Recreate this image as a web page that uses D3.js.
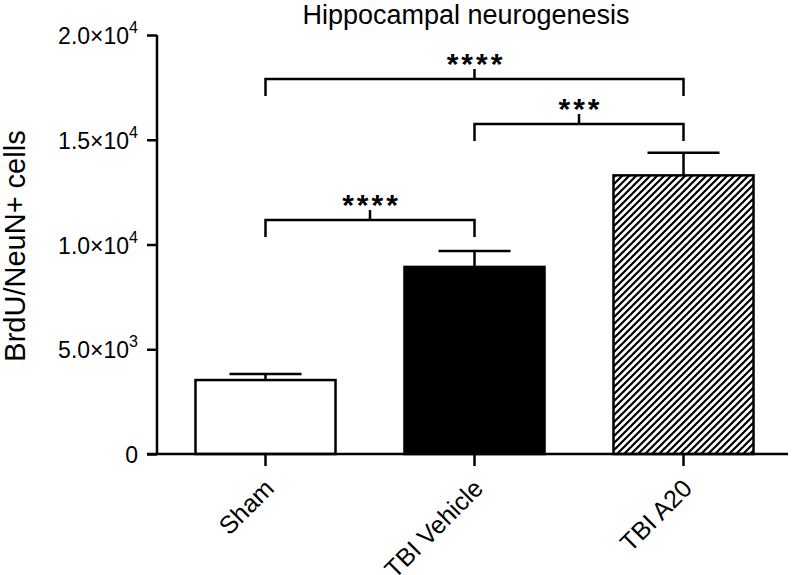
<!DOCTYPE html>
<html>
<head>
<meta charset="utf-8">
<script src="https://cdn.jsdelivr.net/npm/d3@7"></script>
<style>
  body { margin: 0; background: #fff; }
  svg { font-family: Arial, "Liberation Sans", sans-serif; }
</style>
</head>
<body>
<svg id="chart" width="792" height="575"></svg>
<script>
// data
var groups = ["Sham", "TBI Vehicle", "TBI A20"];
var means = [3530, 8930, 13300];
var sems = [290, 760, 1080];
var fills = ["white", "black", "hatch"];
var yTicks = [0, 5000, 10000, 15000, 20000];
var yTickLabels = [["0", ""], ["5.0\u00d710", "3"], ["1.0\u00d710", "4"], ["1.5\u00d710", "4"], ["2.0\u00d710", "4"]];
// significance brackets: from group, to group, level, stars
var bracketFrom = [0, 1, 0];
var bracketTo = [2, 2, 1];
var bracketLevel = [17900, 15750, 11170];
var bracketStars = ["****", "***", "****"];

var svg = d3.select("#chart");
var x0 = 157, x1 = 788, yBottom = 454, yTop = 35;

var x = d3.scaleBand().domain(groups).range([161, 788]).paddingInner(0.33).paddingOuter(0.165);
var y = d3.scaleLinear().domain([0, 20000]).range([yBottom, yTop]);

var defs = svg.append("defs");
var pat = defs.append("pattern")
    .attr("id", "hatch")
    .attr("patternUnits", "userSpaceOnUse")
    .attr("width", 7).attr("height", 7);
pat.append("rect").attr("width", 7).attr("height", 7).attr("fill", "white");
pat.append("path")
    .attr("d", "M-1,1 l2,-2 M0,7 l7,-7 M6,8 l2,-2")
    .attr("stroke", "black").attr("stroke-width", 2.2);

// title
svg.append("text")
    .attr("x", 466).attr("y", 24)
    .attr("text-anchor", "middle")
    .attr("font-size", 27)
    .text("Hippocampal neurogenesis");

// y label
svg.append("text")
    .attr("transform", "translate(25,246) rotate(-90)")
    .attr("text-anchor", "middle")
    .attr("font-size", 29)
    .text("BrdU/NeuN+ cells");

// bars
var data = groups.map(function(g, i) { return {g: g, m: means[i], s: sems[i], f: fills[i]}; });

svg.selectAll(".err").data(data).enter().append("path")
    .attr("class", "err")
    .attr("fill", "none").attr("stroke", "black").attr("stroke-width", 2.5)
    .attr("d", function(d) {
      var cx = x(d.g) + x.bandwidth() / 2;
      return "M" + cx + "," + y(d.m) + "V" + y(d.m + d.s) + "M" + (cx - 36) + "," + y(d.m + d.s) + "H" + (cx + 36);
    });

svg.selectAll(".bar").data(data).enter().append("rect")
    .attr("class", "bar")
    .attr("x", function(d) { return x(d.g); })
    .attr("width", x.bandwidth())
    .attr("y", function(d) { return y(d.m); })
    .attr("height", function(d) { return yBottom - y(d.m); })
    .attr("fill", function(d) { return d.f == "hatch" ? "url(#hatch)" : d.f; })
    .attr("stroke", "black").attr("stroke-width", 2.5);

// y axis
var yAxis = svg.append("g").attr("transform", "translate(" + x0 + ",0)")
    .call(d3.axisLeft(y).tickValues(yTicks).tickSize(10).tickFormat(""));
yAxis.selectAll("path, line").attr("stroke", "black").attr("stroke-width", 2.5);
yAxis.select(".domain").attr("d", "M0," + yTop + "V" + yBottom);
var lab = svg.selectAll(".ylab").data(yTicks).enter().append("text")
    .attr("class", "ylab")
    .attr("x", x0 - 19)
    .attr("y", function(d) { return y(d) + 9; })
    .attr("text-anchor", "end")
    .attr("font-size", 23);
lab.append("tspan").text(function(d, i) { return yTickLabels[i][0]; });
lab.append("tspan").attr("dy", -11).attr("font-size", 16).text(function(d, i) { return yTickLabels[i][1]; });

// x axis
var xAxis = svg.append("g").attr("transform", "translate(0," + yBottom + ")")
    .call(d3.axisBottom(x).tickSize(12).tickSizeOuter(0).tickFormat(""));
xAxis.selectAll("path, line").attr("stroke", "black").attr("stroke-width", 2.5);
xAxis.select(".domain").attr("d", "M" + (x0 - 10) + ",0H" + x1);

svg.selectAll(".xlab").data(groups).enter().append("text")
    .attr("class", "xlab")
    .attr("font-size", 25)
    .attr("text-anchor", "end")
    .attr("transform", function(d) {
      return "translate(" + (x(d) + x.bandwidth() / 2 + 10) + "," + (yBottom + 36) + ") rotate(-45)";
    })
    .text(function(d) { return d; });

// significance brackets
bracketLevel.forEach(function(lv, i) {
  var xa = x(groups[bracketFrom[i]]) + x.bandwidth() / 2;
  var xb = x(groups[bracketTo[i]]) + x.bandwidth() / 2;
  var yy = y(lv);
  svg.append("path")
    .attr("fill", "none").attr("stroke", "black").attr("stroke-width", 2.5)
    .attr("d", "M" + xa + "," + (yy + 17) + "V" + yy + "H" + xb + "V" + (yy + 17) +
      "M" + ((xa + xb) / 2) + "," + yy + "V" + (yy - 10));
  svg.append("text")
    .attr("x", (xa + xb) / 2 + 1.5).attr("y", yy - 5)
    .attr("text-anchor", "middle")
    .attr("font-size", 30).attr("font-weight", "bold")
    .attr("letter-spacing", 3)
    .text(bracketStars[i]);
});
</script>
</body>
</html>
